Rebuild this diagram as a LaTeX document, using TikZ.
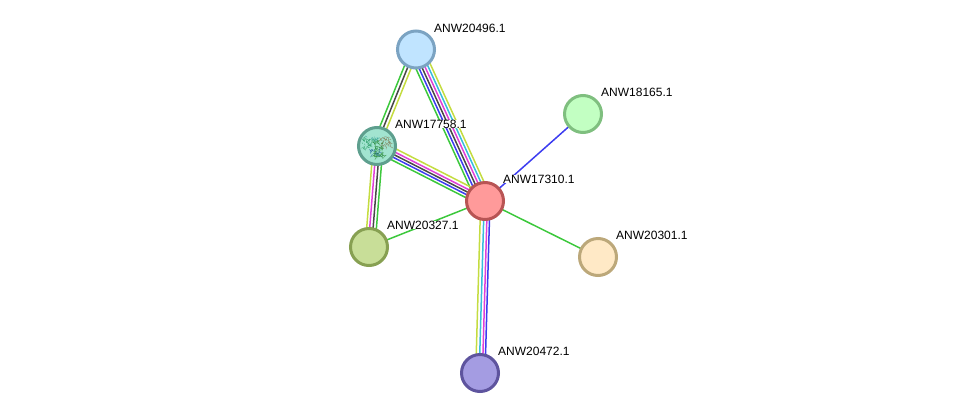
\documentclass[tikz,border=0pt]{standalone}
\usepackage{fontspec}
\setmainfont{Liberation Sans}
\usetikzlibrary{calc,backgrounds}
\definecolor{cNeighbor}{HTML}{3CC83C}
\definecolor{cCooccur}{HTML}{3C3CF0}
\definecolor{cCoexpr}{HTML}{484848}
\definecolor{cExper}{HTML}{E040D8}
\definecolor{cData}{HTML}{38BCDC}
\definecolor{cText}{HTML}{C4DC40}
\definecolor{chainA}{HTML}{2E9E6A}
\definecolor{chainB}{HTML}{80704A}
\definecolor{chainC}{HTML}{2A8A3A}
\definecolor{chainD}{HTML}{2060A0}
\definecolor{chainE}{HTML}{3FA8A0}
\tikzset{
  protein/.style n args={2}{circle,draw=#2,fill=#1,line width=3pt,minimum size=37pt,inner sep=0pt},
  plabel/.style={anchor=base west,inner sep=0pt,fill=white,font=\fontsize{12}{14}\selectfont,text=black},
  link/.style={line width=1.5pt}
}
% one coloured strand of an edge, shifted sideways by #3 from the centre line
\newcommand{\strand}[4]{%
  \draw[link,#4] ($(#1)!#3pt!90:(#2)$) -- ($(#2)!#3pt!-90:(#1)$);}
\begin{document}
\begin{tikzpicture}[x=1pt,y=-1pt]
\useasboundingbox (0,0) rectangle (976,418);

\definecolor{fBlue}{HTML}{C0E4FF}\definecolor{sBlue}{HTML}{7BA3C2}
\definecolor{fTeal}{HTML}{A2E4D0}\definecolor{sTeal}{HTML}{5E9F8E}
\definecolor{fRed}{HTML}{FF9A9A}\definecolor{sRed}{HTML}{B85454}
\definecolor{fGreen}{HTML}{C2FFC2}\definecolor{sGreen}{HTML}{7FBF7F}
\definecolor{fOlive}{HTML}{C8DE98}\definecolor{sOlive}{HTML}{87A052}
\definecolor{fSand}{HTML}{FFE9C6}\definecolor{sSand}{HTML}{BCA87A}
\definecolor{fViolet}{HTML}{A49CE2}\definecolor{sViolet}{HTML}{5E549E}

\node[protein={fBlue}{sBlue}]     (n496) at (416,49.5)  {};
\node[protein={fTeal}{sTeal}]     (n758) at (377,146) {};
\node[protein={fRed}{sRed}]       (n310) at (485,201) {};
\node[protein={fGreen}{sGreen}]   (n165) at (583,114) {};
\node[protein={fOlive}{sOlive}]   (n327) at (369,247) {};
\node[protein={fSand}{sSand}]     (n301) at (598,257) {};
\node[protein={fViolet}{sViolet}] (n472) at (480,373) {};

% structure thumbnail inside the teal protein
\begin{scope}[opacity=.8]
  \clip (n758) circle (16.5);
  \pgfmathsetseed{9173}
  \foreach \cx/\cy/\sx/\sy/\col/\n in {
      369/143/7/5/chainA/55,
      386/142/5/5/chainB/40,
      378/148/5/8/chainC/60,
      375/152/5/3/chainD/22,
      380/155/5/3/chainC/18,
      372/139/6/2/chainE/16} {
    \foreach \i in {1,...,\n} {
      \pgfmathsetmacro{\xa}{\cx+\sx*rand}
      \pgfmathsetmacro{\ya}{\cy+\sy*rand}
      \pgfmathsetmacro{\xb}{\xa+3*rand}
      \pgfmathsetmacro{\yb}{\ya+3*rand}
      \draw[\col,line width=.4pt] (\xa,\ya) -- (\xb,\yb);
    }
  }
\end{scope}

\begin{scope}[on background layer]
  % ANW20496.1 -- ANW17310.1
  \strand{n496}{n310}{-8}{cNeighbor}
  \strand{n496}{n310}{-5}{cCooccur}
  \strand{n496}{n310}{-2}{cCoexpr}
  \strand{n496}{n310}{1}{cExper}
  \strand{n496}{n310}{4}{cData}
  \strand{n496}{n310}{7}{cText}
  % ANW20496.1 -- ANW17758.1
  \strand{n496}{n758}{-4.6}{cNeighbor}
  \strand{n496}{n758}{-1}{cCoexpr}
  \strand{n496}{n758}{2.5}{cText}
  % ANW17758.1 -- ANW17310.1
  \strand{n758}{n310}{6}{cText}
  \strand{n758}{n310}{2.7}{cExper}
  \strand{n758}{n310}{0}{cCoexpr}
  \strand{n758}{n310}{-2.7}{cCooccur}
  \strand{n758}{n310}{-5.7}{cNeighbor}
  % ANW17758.1 -- ANW20327.1
  \strand{n758}{n327}{-3.8}{cText}
  \strand{n758}{n327}{-.8}{cExper}
  \strand{n758}{n327}{2.6}{cCoexpr}
  \strand{n758}{n327}{5.9}{cNeighbor}
  % ANW17310.1 -- ANW20472.1
  \strand{n310}{n472}{-4.3}{cText}
  \strand{n310}{n472}{-.8}{cData}
  \strand{n310}{n472}{2.4}{cExper}
  \strand{n310}{n472}{5}{cCooccur}
  % single-evidence edges
  \strand{n310}{n165}{0}{cCooccur}
  \strand{n310}{n327}{0}{cNeighbor}
  \strand{n310}{n301}{0}{cNeighbor}
\end{scope}

\node[plabel] (l496) at (434,32)  {ANW20496.1};
\node[plabel] (l758) at (395,128) {ANW17758.1};
\node[plabel] (l310) at (503,183) {ANW17310.1};
\node[plabel] (l165) at (601,96)  {ANW18165.1};
\node[plabel] (l327) at (387,229) {ANW20327.1};
\node[plabel] (l301) at (616,239) {ANW20301.1};
\node[plabel] (l472) at (498,355) {ANW20472.1};
\end{tikzpicture}
\end{document}
